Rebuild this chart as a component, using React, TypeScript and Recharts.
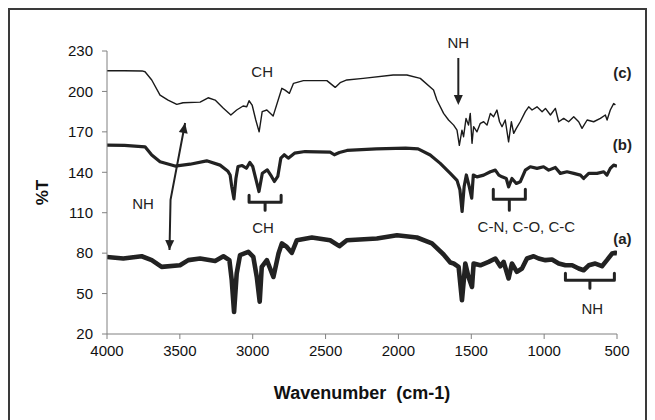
import React from 'react';
import { LineChart, Line, XAxis, YAxis } from 'recharts';

const X_TICKS = [4000, 3500, 3000, 2500, 2000, 1500, 1000, 500];
const Y_TICKS = [20, 50, 80, 110, 140, 170, 200, 230];

// spectrum (a)
const WAVE_A = [4000, 3888, 3762, 3693, 3625, 3499, 3442, 3361, 3258, 3201, 3160, 3144, 3128, 3110, 3087, 3030, 2996, 2972, 2952, 2938, 2903, 2858, 2823, 2800, 2766, 2732, 2697, 2594, 2469, 2405, 2354, 2148, 2010, 1873, 1770, 1690, 1644, 1621, 1587, 1564, 1541, 1519, 1495, 1484, 1438, 1381, 1335, 1301, 1278, 1244, 1221, 1187, 1152, 1118, 1072, 1038, 991, 946, 900, 854, 808, 763, 729, 694, 649, 603, 569, 534, 511, 500];
const T_A = [77.2, 76, 77.7, 74.8, 69.8, 71, 74.8, 76, 74.2, 77.7, 74.8, 60, 36.3, 64.9, 78.5, 81, 77.2, 62.3, 44, 69.8, 74.8, 62.3, 79.7, 87.2, 84.6, 80.2, 89.6, 91.6, 89.6, 85.2, 89.6, 90.9, 93.3, 91.6, 87.2, 79, 73, 72.3, 69.8, 45, 72.3, 62.3, 54.9, 72.3, 71, 73.5, 76, 70.3, 73.5, 61.2, 72.3, 66.1, 68.6, 76, 77.7, 76, 74.8, 75.3, 72.3, 71, 71, 68.6, 67.3, 71, 72.3, 70.3, 74.8, 79.7, 80.2, 80];

// spectrum (b)
const WAVE_B = [4000, 3880, 3739, 3693, 3636, 3533, 3430, 3316, 3224, 3172, 3155, 3144, 3129, 3115, 3101, 3072, 3043, 3020, 3000, 2977, 2957, 2934, 2900, 2871, 2851, 2828, 2807, 2784, 2756, 2713, 2641, 2469, 2440, 2405, 2353, 2152, 1951, 1865, 1782, 1713, 1644, 1598, 1578, 1563, 1549, 1534, 1514, 1497, 1486, 1461, 1415, 1369, 1335, 1311, 1289, 1260, 1244, 1221, 1191, 1164, 1129, 1095, 1049, 1004, 969, 923, 889, 843, 797, 751, 729, 694, 637, 591, 569, 546, 523, 500];
const T_B = [160.1, 160, 158.9, 152.8, 147.8, 144.6, 146, 148.5, 145.3, 141, 138, 129.4, 120.3, 135.6, 144.3, 145, 143, 147.3, 144.3, 134.4, 125.7, 139.3, 141.8, 136.9, 133.2, 136.9, 150.5, 153, 150.5, 154.2, 155.4, 155, 153, 154.7, 156.2, 157.4, 157.9, 157.4, 152.8, 146.6, 139.2, 134, 127, 110.9, 129.4, 138, 129.4, 120.8, 138, 136.6, 137.9, 140.4, 141.6, 137.9, 136.6, 135.4, 129.2, 135.4, 131.7, 132.9, 141.6, 144.1, 142.9, 144.1, 141.6, 143.6, 139.2, 140.4, 139.2, 137.9, 135.4, 139.2, 139.2, 140.4, 137.9, 142.9, 145.3, 144.6];

// spectrum (c)
const WAVE_C = [4000, 3880, 3760, 3739, 3693, 3636, 3581, 3521, 3478, 3361, 3306, 3258, 3203, 3150, 3110, 3066, 3041, 3025, 3004, 2979, 2956, 2935, 2903, 2860, 2800, 2778, 2748, 2720, 2652, 2491, 2434, 2400, 2354, 2242, 2036, 1942, 1850, 1759, 1736, 1690, 1656, 1621, 1598, 1582, 1564, 1553, 1536, 1519, 1507, 1495, 1484, 1461, 1438, 1415, 1392, 1369, 1347, 1324, 1306, 1289, 1267, 1244, 1225, 1209, 1191, 1164, 1129, 1106, 1083, 1049, 1014, 991, 957, 923, 900, 866, 832, 797, 763, 740, 705, 660, 614, 580, 568, 546, 523, 511];
const T_C = [215.3, 215.3, 215.2, 214.6, 208.5, 197.3, 193.6, 190.4, 191.6, 192.1, 195.3, 193.6, 187.7, 182.5, 186.2, 189.2, 188.6, 193.1, 189.9, 178.8, 170, 185, 186.2, 181.7, 202.3, 201, 198.6, 206, 208, 208, 203, 206.5, 208.5, 209.7, 212.2, 212.2, 209.7, 201, 193.6, 183.7, 178.8, 175, 171.3, 160, 171.3, 166.4, 180, 175, 183.7, 161.5, 173.8, 170, 176.3, 177.5, 175, 183.7, 181.2, 186.2, 177.5, 173.8, 178.8, 162.6, 177.5, 168.9, 172.6, 177.5, 185, 188.6, 186.2, 188.6, 185, 187.4, 182.5, 187.4, 177.5, 180, 177.5, 181.2, 177.5, 172.6, 178.8, 177.5, 180, 182.5, 178.8, 186.2, 191, 190];

const rows = (w: number[], t: number[]) => w.map((wn, i) => ({ wn, t: t[i] }));

// chart geometry
const W = 635;
const H = 412;
const M = { top: 41, right: 28, left: 0, bottom: 23 };
const Y_W = 97;
const X_H = 65;
const PL = M.left + Y_W;
const PR = W - M.right;
const PT = M.top;
const PB = H - M.bottom - X_H;

const px = (wn: number) => PL + ((4000 - wn) / 3500) * (PR - PL);
const py = (v: number) => PT + ((230 - v) / 210) * (PB - PT);

const FONT = '"Liberation Sans", Arial, sans-serif';
const INK = '#222';

function head(tx: number, ty: number, fx: number, fy: number, len = 10, hw = 4.5) {
  const dx = tx - fx;
  const dy = ty - fy;
  const d = Math.hypot(dx, dy);
  const ux = dx / d;
  const uy = dy / d;
  const bx = tx - ux * len;
  const by = ty - uy * len;
  return `${tx},${ty} ${bx - uy * hw},${by + ux * hw} ${bx + uy * hw},${by - ux * hw}`;
}

function Bracket({ l, r, top, bar, tip }: { l: number; r: number; top: number; bar: number; tip: number }) {
  const xl = px(l);
  const xr = px(r);
  const xc = (xl + xr) / 2;
  const d = `M${xl},${py(top)} L${xl},${py(bar)} L${xr},${py(bar)} L${xr},${py(top)} M${xc},${py(bar)} L${xc},${py(tip)}`;
  return <path d={d} fill="none" stroke={INK} strokeWidth={3} strokeLinejoin="round" strokeLinecap="round" />;
}

function Note({ wn, v, text, bold }: { wn: number; v: number; text: string; bold?: boolean }) {
  return (
    <text x={px(wn)} y={py(v)} dy="0.35em" textAnchor="middle" fontFamily={FONT} fontSize={15} fontWeight={bold ? 700 : 400} fill={INK}>
      {text}
    </text>
  );
}

function Annotations() {
  // double arrow near 3500
  const p1 = [px(3464), py(176.6)];
  const p2 = [px(3564), py(119.5)];
  const p3 = [px(3571), py(82.3)];
  const nx = px(1589);
  const n1 = py(224.8);
  const n2 = py(189.9);
  return (
    <svg width={W} height={H} style={{ position: 'absolute', left: 0, top: 0, pointerEvents: 'none' }}>
      <Note wn={2935} v={214.4} text="CH" />
      <Note wn={1589} v={236} text="NH" />
      <line x1={nx} y1={n1} x2={nx} y2={n2 - 8} stroke={INK} strokeWidth={2} />
      <polygon points={head(nx, n2, nx, n1)} fill={INK} />

      <Note wn={3753} v={117} text="NH" />
      <polyline points={`${p1[0]},${p1[1]} ${p2[0]},${p2[1]} ${p3[0]},${p3[1]}`} fill="none" stroke={INK} strokeWidth={2} />
      <polygon points={head(p1[0], p1[1], p2[0], p2[1])} fill={INK} />
      <polygon points={head(p3[0], p3[1], p2[0], p2[1])} fill={INK} />

      <Bracket l={3025} r={2805} top={123} bar={117.8} tip={111.9} />
      <Note wn={2929} v={98.5} text="CH" />
      <Bracket l={1349} r={1129} top={127.5} bar={120} tip={111.9} />
      <Note wn={1122} v={99.3} text="C-N, C-O, C-C" />
      <Bracket l={854} r={518} top={65.1} bar={59.9} tip={54} />
      <Note wn={669} v={39} text="NH" />

      <Note wn={463} v={213.7} text="(c)" bold />
      <Note wn={463} v={160.2} text="(b)" bold />
      <Note wn={463} v={90.4} text="(a)" bold />
    </svg>
  );
}

export default function App() {
  const tick = { fontSize: 15, fill: '#111', fontFamily: FONT };
  return (
    <div style={{ width: W, height: H + 10, border: '2px solid #3a3a3a', background: '#fff', position: 'relative' }}>
      <style>{'body{overflow:hidden}'}</style>
      <div style={{ position: 'relative', width: W, height: H }}>
        <LineChart width={W} height={H} margin={M}>
          <XAxis
            type="number"
            dataKey="wn"
            domain={[500, 4000]}
            reversed
            ticks={X_TICKS}
            allowDataOverflow
            height={X_H}
            stroke="#808080"
            tickSize={5}
            tickMargin={6}
            tick={tick}
            label={{ value: 'Wavenumber\u00a0\u00a0(cm-1)', position: 'insideBottom', offset: 0, style: { fontSize: 18, fontWeight: 700, fill: '#111', fontFamily: FONT } }}
          />
          <YAxis
            type="number"
            domain={[20, 230]}
            ticks={Y_TICKS}
            allowDataOverflow
            width={Y_W}
            stroke="#808080"
            tickSize={5}
            tickMargin={9}
            tick={tick}
            label={{ value: '%T', angle: -90, position: 'insideLeft', offset: 32, style: { fontSize: 17, fontWeight: 700, fill: '#111', fontFamily: FONT, textAnchor: 'middle' } }}
          />
          <Line data={rows(WAVE_C, T_C)} dataKey="t" type="linear" stroke="#1a1a1a" strokeWidth={1.4} dot={false} isAnimationActive={false} strokeLinejoin="round" />
          <Line data={rows(WAVE_B, T_B)} dataKey="t" type="linear" stroke="#222" strokeWidth={3.2} dot={false} isAnimationActive={false} strokeLinejoin="round" />
          <Line data={rows(WAVE_A, T_A)} dataKey="t" type="linear" stroke="#222" strokeWidth={4.6} dot={false} isAnimationActive={false} strokeLinejoin="round" />
        </LineChart>
        <Annotations />
      </div>
    </div>
  );
}
